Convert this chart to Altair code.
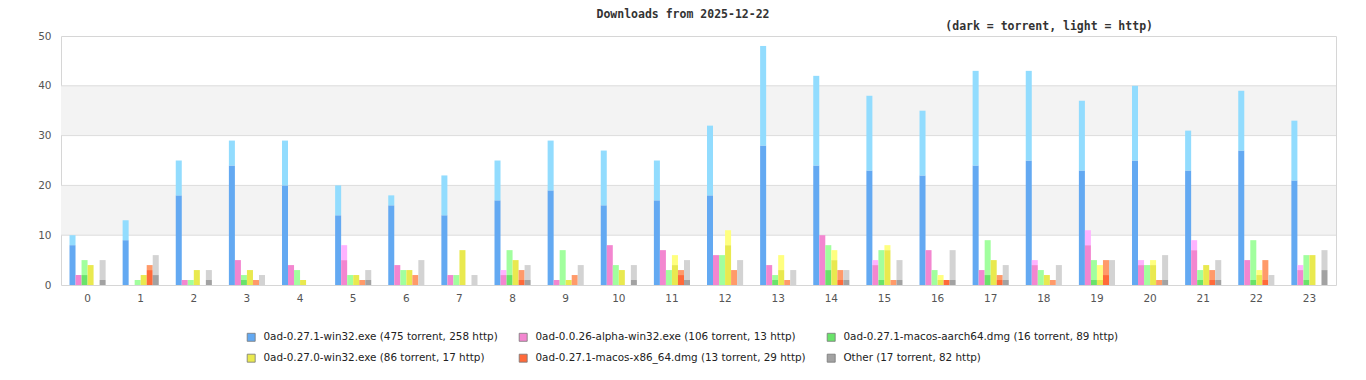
import altair as alt
import pandas as pd

hours = list(range(24))

series_names = [
    "0ad-0.27.1-win32.exe",
    "0ad-0.0.26-alpha-win32.exe",
    "0ad-0.27.1-macos-aarch64.dmg",
    "0ad-0.27.0-win32.exe",
    "0ad-0.27.1-macos-x86_64.dmg",
    "Other",
]

win32_271_torrent = [8, 9, 18, 24, 20, 14, 16, 14, 17, 19, 16, 17, 18, 28, 24, 23, 22, 24, 25, 23, 25, 23, 27, 21]
win32_271_http = [2, 4, 7, 5, 9, 6, 2, 8, 8, 10, 11, 8, 14, 20, 18, 15, 13, 19, 18, 14, 15, 8, 12, 12]
alpha_torrent = [2, 0, 1, 5, 4, 5, 4, 2, 2, 1, 8, 7, 6, 4, 10, 4, 7, 3, 4, 8, 4, 7, 5, 3]
alpha_http = [0, 0, 0, 0, 0, 3, 0, 0, 1, 0, 0, 0, 0, 0, 0, 1, 0, 0, 1, 3, 1, 2, 0, 1]
aarch64_torrent = [2, 0, 0, 1, 0, 0, 0, 0, 2, 0, 0, 0, 0, 1, 3, 1, 0, 2, 0, 1, 0, 1, 1, 1]
aarch64_http = [3, 1, 1, 1, 3, 2, 3, 2, 5, 7, 4, 3, 6, 1, 5, 6, 3, 7, 3, 4, 4, 2, 8, 5]
win32_270_torrent = [4, 2, 3, 3, 1, 2, 3, 7, 5, 1, 3, 4, 8, 3, 5, 7, 1, 5, 2, 1, 4, 4, 2, 6]
win32_270_http = [0, 0, 0, 0, 0, 0, 0, 0, 0, 0, 0, 2, 3, 3, 2, 1, 1, 0, 0, 3, 1, 0, 1, 0]
x86_torrent = [0, 3, 0, 0, 0, 0, 0, 0, 1, 0, 0, 2, 0, 0, 1, 0, 1, 1, 0, 2, 0, 1, 1, 0]
x86_http = [0, 1, 0, 1, 0, 1, 2, 0, 2, 2, 0, 1, 3, 1, 2, 1, 0, 1, 1, 3, 1, 2, 4, 0]
other_torrent = [1, 2, 1, 0, 0, 1, 0, 0, 1, 0, 1, 1, 0, 0, 1, 1, 1, 1, 0, 0, 1, 1, 0, 3]
other_http = [4, 4, 2, 2, 0, 2, 5, 2, 3, 4, 3, 4, 5, 3, 2, 4, 6, 3, 4, 5, 5, 4, 2, 4]

torrent_values = [win32_271_torrent, alpha_torrent, aarch64_torrent, win32_270_torrent, x86_torrent, other_torrent]
http_values = [win32_271_http, alpha_http, aarch64_http, win32_270_http, x86_http, other_http]

dark_colors = ["#63a9f2", "#f386d0", "#69e36a", "#e9e94f", "#ff6a3a", "#a2a2a2"]
light_colors = ["#92dcfe", "#ffb3ff", "#a1ff9e", "#ffff7f", "#ff9a6a", "#d3d3d3"]

title_text = "Downloads from 2025-12-22"
subtitle_text = "(dark = torrent, light = http)"
band_low = [10, 30]
band_high = [20, 40]
grid_values = [10, 20, 30, 40]

W, H = 1275, 249

rows = []
for name, tv, hv in zip(series_names, torrent_values, http_values):
    for h, t, p in zip(hours, tv, hv):
        if t > 0:
            rows.append({"hour": h, "series": name, "key": name + "|torrent", "y0": 0, "y1": t})
        if p > 0:
            rows.append({"hour": h, "series": name, "key": name + "|http", "y0": t, "y1": t + p})
df = pd.DataFrame(rows)

keys, key_colors = [], []
for name, d, l in zip(series_names, dark_colors, light_colors):
    keys += [name + "|torrent", name + "|http"]
    key_colors += [d, l]

legend_labels = [
    f"{n} ({sum(t)} torrent, {sum(h)} http)"
    for n, t, h in zip(series_names, torrent_values, http_values)
]
# legend is laid out column by column: reorder so it reads row by row (3 columns, 2 rows)
leg_order = [0, 3, 1, 4, 2, 5]
leg_domain = [legend_labels[i] for i in leg_order]
leg_range = [dark_colors[i] for i in leg_order]
df_leg = pd.DataFrame({"label": legend_labels})

yscale = alt.Scale(domain=[0, 50], nice=False, zero=True)
yaxis = alt.Axis(values=[0, 10, 20, 30, 40, 50], title=None, ticks=False, domain=False,
                 grid=False, labelPadding=10, labelFont="DejaVu Sans", labelFontSize=10.5,
                 labelColor="#555555")

bands = alt.Chart(pd.DataFrame({"lo": band_low, "hi": band_high})).mark_rect(color="#f3f3f3").encode(
    x=alt.value(0), x2=alt.value("width"),
    y=alt.Y("lo:Q", scale=yscale, axis=yaxis), y2="hi:Q",
)

grid = alt.Chart(pd.DataFrame({"g": grid_values})).mark_rule(color="#dcdcdc", strokeWidth=1).encode(
    y=alt.Y("g:Q", scale=yscale, axis=yaxis),
)

bars = alt.Chart(df).mark_bar().encode(
    x=alt.X("hour:O", scale=alt.Scale(domain=hours, paddingInner=0.32, paddingOuter=0.16),
            axis=alt.Axis(title=None, labelAngle=0, ticks=False, domain=False, labelPadding=8,
                          labelFont="DejaVu Sans", labelFontSize=10.5, labelColor="#555555")),
    xOffset=alt.XOffset("series:N", scale=alt.Scale(domain=series_names, paddingInner=0, paddingOuter=0)),
    y=alt.Y("y0:Q", scale=yscale, axis=yaxis),
    y2="y1:Q",
    color=alt.Color("key:N", scale=alt.Scale(domain=keys, range=key_colors), legend=None),
)

legend_layer = alt.Chart(df_leg).mark_square(opacity=0, size=1).encode(
    x=alt.value(0), y=alt.value(0),
    color=alt.Color("label:N", scale=alt.Scale(domain=leg_domain, range=leg_range),
                    legend=alt.Legend(title=None, orient="none", legendX=185, legendY=296,
                                      columns=3, symbolType="square", symbolSize=64,
                                      symbolOpacity=1, symbolStrokeColor="#777777",
                                      symbolStrokeWidth=0.8, labelFont="DejaVu Sans",
                                      labelFontSize=10.4, labelColor="#222222", labelLimit=500,
                                      labelOffset=7, rowPadding=9, columnPadding=19,
                                      padding=0)),
)

title_layer = alt.Chart(pd.DataFrame({"t": [title_text]})).mark_text(
    font="DejaVu Sans Mono", fontWeight="bold", fontSize=11.5, color="#333333",
    align="center", baseline="alphabetic",
).encode(text="t:N", x=alt.value(683 - 61), y=alt.value(17.5 - 36))

subtitle_layer = alt.Chart(pd.DataFrame({"t": [subtitle_text]})).mark_text(
    font="DejaVu Sans Mono", fontWeight="bold", fontSize=11.5, color="#333333",
    align="right", baseline="alphabetic",
).encode(text="t:N", x=alt.value(1153 - 61), y=alt.value(29.5 - 36))

chart = alt.layer(bands, grid, bars, legend_layer, title_layer, subtitle_layer).resolve_scale(
    color="independent"
).properties(
    width=W, height=H,
    padding={"left": 53, "top": 28, "right": 20, "bottom": 80},
    autosize=alt.AutoSizeParams(type="none"),
).configure_view(stroke="#d6d6d6", strokeWidth=1)

chart.save("out.html", embed_options={"renderer": "svg", "actions": False})
